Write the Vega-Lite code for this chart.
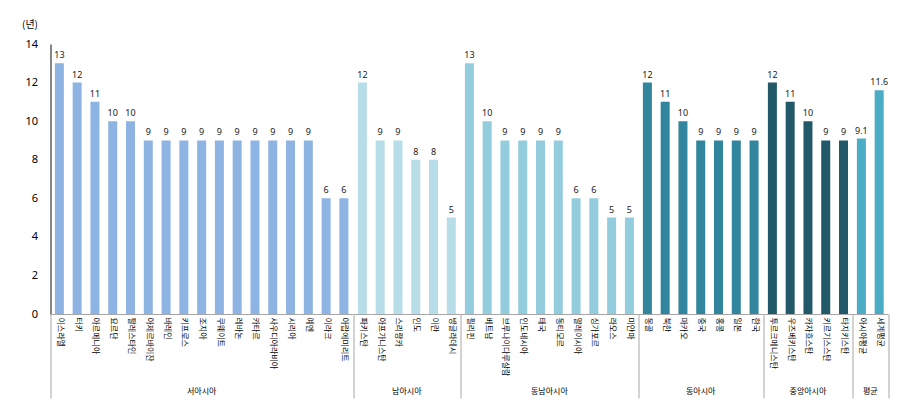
{
  "$schema": "https://vega.github.io/schema/vega-lite/v6.json",
  "padding": {"left": 21.5, "top": 19, "right": 5, "bottom": 5},
  "bounds": "flush",
  "data": {
    "values": [
      {"region": "서아시아", "country": "이스라엘", "years": 13},
      {"region": "서아시아", "country": "터키", "years": 12},
      {"region": "서아시아", "country": "아르메니아", "years": 11},
      {"region": "서아시아", "country": "요르단", "years": 10},
      {"region": "서아시아", "country": "팔레스타인", "years": 10},
      {"region": "서아시아", "country": "아제르바이잔", "years": 9},
      {"region": "서아시아", "country": "바레인", "years": 9},
      {"region": "서아시아", "country": "키프로스", "years": 9},
      {"region": "서아시아", "country": "조지아", "years": 9},
      {"region": "서아시아", "country": "쿠웨이트", "years": 9},
      {"region": "서아시아", "country": "레바논", "years": 9},
      {"region": "서아시아", "country": "카타르", "years": 9},
      {"region": "서아시아", "country": "사우디아라비아", "years": 9},
      {"region": "서아시아", "country": "시리아", "years": 9},
      {"region": "서아시아", "country": "예멘", "years": 9},
      {"region": "서아시아", "country": "이라크", "years": 6},
      {"region": "서아시아", "country": "아랍에미리트", "years": 6},
      {"region": "남아시아", "country": "파키스탄", "years": 12},
      {"region": "남아시아", "country": "아프가니스탄", "years": 9},
      {"region": "남아시아", "country": "스리랑카", "years": 9},
      {"region": "남아시아", "country": "인도", "years": 8},
      {"region": "남아시아", "country": "이란", "years": 8},
      {"region": "남아시아", "country": "방글라데시", "years": 5},
      {"region": "동남아시아", "country": "필리핀", "years": 13},
      {"region": "동남아시아", "country": "베트남", "years": 10},
      {"region": "동남아시아", "country": "브루나이다루살람", "years": 9},
      {"region": "동남아시아", "country": "인도네시아", "years": 9},
      {"region": "동남아시아", "country": "태국", "years": 9},
      {"region": "동남아시아", "country": "동티모르", "years": 9},
      {"region": "동남아시아", "country": "말레이시아", "years": 6},
      {"region": "동남아시아", "country": "싱가포르", "years": 6},
      {"region": "동남아시아", "country": "라오스", "years": 5},
      {"region": "동남아시아", "country": "미얀마", "years": 5},
      {"region": "동아시아", "country": "몽골", "years": 12},
      {"region": "동아시아", "country": "북한", "years": 11},
      {"region": "동아시아", "country": "마카오", "years": 10},
      {"region": "동아시아", "country": "중국", "years": 9},
      {"region": "동아시아", "country": "홍콩", "years": 9},
      {"region": "동아시아", "country": "일본", "years": 9},
      {"region": "동아시아", "country": "한국", "years": 9},
      {"region": "중앙아시아", "country": "투르크메니스탄", "years": 12},
      {"region": "중앙아시아", "country": "우즈베키스탄", "years": 11},
      {"region": "중앙아시아", "country": "카자흐스탄", "years": 10},
      {"region": "중앙아시아", "country": "키르기스스탄", "years": 9},
      {"region": "중앙아시아", "country": "타지키스탄", "years": 9},
      {"region": "평균", "country": "아시아평균", "years": 9.1},
      {"region": "평균", "country": "세계평균", "years": 11.6}
    ]
  },
  "facet": {
    "column": {
      "field": "region",
      "type": "nominal",
      "sort": ["서아시아", "남아시아", "동남아시아", "동아시아", "중앙아시아", "평균"],
      "title": null,
      "header": {
        "labelOrient": "bottom",
        "labelFont": "Noto Sans CJK KR",
        "labelFontSize": 8,
        "labelColor": "#000000",
        "labelBaseline": "middle",
        "labelPadding": 78
      }
    }
  },
  "spacing": 0,
  "resolve": {"scale": {"x": "independent"}},
  "spec": {
    "width": {"step": 17.78},
    "height": 270,
    "encoding": {
      "x": {
        "field": "country",
        "type": "nominal",
        "sort": null,
        "scale": {"paddingInner": 0, "paddingOuter": 0},
        "axis": {
          "title": null,
          "labelAngle": 90,
          "labelFont": "Noto Sans CJK KR",
          "labelFontSize": 8,
          "labelColor": "#000000",
          "domainColor": "#A6A6A6",
          "domainWidth": 1,
          "ticks": true,
          "tickBand": "extent",
          "tickSize": 84,
          "tickColor": "#A6A6A6",
          "tickWidth": 1,
          "tickOpacity": {"condition": {"test": "datum.extra || datum.value === '세계평균'", "value": 1}, "value": 0},
          "labelPadding": -81
        }
      },
      "y": {
        "field": "years",
        "type": "quantitative",
        "scale": {"domain": [0, 14]},
        "axis": {
          "title": "(년)",
          "titleAngle": 0,
          "titleAlign": "left",
          "titleBaseline": "middle",
          "titleX": -29,
          "titleY": -19.5,
          "titleFont": "Noto Sans CJK KR",
          "titleFontSize": 10,
          "titleFontWeight": "normal",
          "titleColor": "#000000",
          "values": [0, 2, 4, 6, 8, 10, 12, 14],
          "grid": false,
          "ticks": false,
          "domainColor": "#868686",
          "domainWidth": 2,
          "labelFont": "Noto Sans",
          "labelFontSize": 11,
          "labelColor": "#000000",
          "labelPadding": 13
        }
      }
    },
    "layer": [
      {
        "mark": {"type": "bar", "width": 9},
        "encoding": {
          "color": {
            "field": "region",
            "type": "nominal",
            "legend": null,
            "scale": {
              "domain": ["서아시아", "남아시아", "동남아시아", "동아시아", "중앙아시아", "평균"],
              "range": ["#8EB4E3", "#B7DDE8", "#93CDDD", "#31859C", "#215968", "#4BACC6"]
            }
          }
        }
      },
      {
        "mark": {"type": "text", "baseline": "alphabetic", "dy": -5, "font": "Noto Sans", "fontSize": 9, "color": "#1a1a1a"},
        "encoding": {"text": {"field": "years", "type": "quantitative"}}
      }
    ]
  },
  "config": {"view": {"stroke": null}}
}
